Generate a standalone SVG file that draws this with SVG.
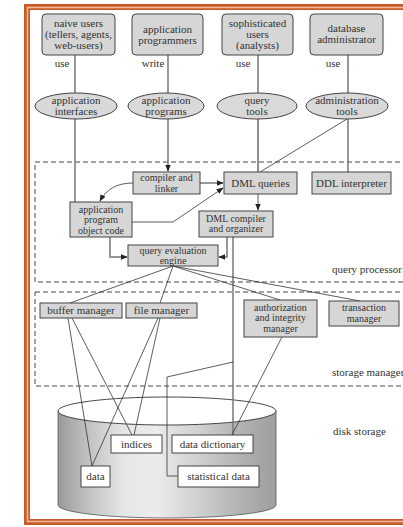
<svg xmlns="http://www.w3.org/2000/svg" width="403" height="527" viewBox="0 0 403 527">
<style>
text{font-family:"Liberation Serif","Times New Roman",serif;font-size:11px;fill:#333;text-anchor:middle}
.sm{font-size:10px}
.lbl{text-anchor:start}
.box{fill:#d6d6d6;stroke:#444;stroke-width:1}
.wbox{fill:#fff;stroke:#444;stroke-width:1}
.ell{fill:#d9d9d9;stroke:#444;stroke-width:1}
.ln{fill:none;stroke:#333;stroke-width:0.8}
.gl{fill:none;stroke:#777;stroke-width:1.5}
.dash{fill:none;stroke:#333;stroke-width:0.9;stroke-dasharray:5 3}
</style>
<defs>
<marker id="ah" viewBox="0 0 10 10" refX="9" refY="5" markerWidth="7" markerHeight="7" orient="auto-start-reverse" markerUnits="userSpaceOnUse">
<path d="M0,1 L10,5 L0,9 Z" fill="#222"/>
</marker>
<linearGradient id="cyl" x1="0" y1="0" x2="1" y2="0">
<stop offset="0" stop-color="#9a9a9a"/>
<stop offset="0.12" stop-color="#bdbdbd"/>
<stop offset="0.3" stop-color="#e6e6e6"/>
<stop offset="0.45" stop-color="#ececec"/>
<stop offset="0.65" stop-color="#cfcfcf"/>
<stop offset="0.85" stop-color="#b0b0b0"/>
<stop offset="1" stop-color="#9e9e9e"/>
</linearGradient>
</defs>
<rect width="403" height="527" fill="#fff"/>
<rect x="27" y="7" width="400" height="515" fill="none" stroke="#c85a28" stroke-width="6"/>
<rect x="27.5" y="7.5" width="400" height="514" fill="none" stroke="#f2b898" stroke-width="1.6"/>

<rect class="dash" x="35" y="162" width="380" height="120"/>
<rect class="dash" x="35" y="292" width="380" height="94"/>
<text class="lbl" x="332" y="273">query processor</text>
<text class="lbl" x="332" y="376">storage manager</text>
<text class="lbl" x="333" y="435">disk storage</text>

<g id="disk">
<path d="M58,411 L58,505 A109,13 0 0 0 276,505 L276,411 Z" fill="url(#cyl)" stroke="#555" stroke-width="0.8"/>
<ellipse cx="167" cy="411" rx="109" ry="14" fill="#fff" stroke="#333" stroke-width="0.9"/>
</g>

<g id="connectors">
<line class="gl" x1="75" y1="55" x2="75" y2="93"/>
<line class="gl" x1="168" y1="55" x2="168" y2="93"/>
<line class="gl" x1="258" y1="55" x2="258" y2="93"/>
<line class="gl" x1="348" y1="55" x2="348" y2="93"/>
<line class="gl" x1="75" y1="119" x2="75" y2="202"/>
<line class="gl" x1="168" y1="119" x2="168" y2="171" marker-end="url(#ah)"/>
<line class="ln" x1="258" y1="119" x2="258" y2="172" style="stroke-width:1.1"/>
<line class="gl" x1="348" y1="119" x2="348" y2="172"/>
<line class="ln" x1="347" y1="119" x2="260" y2="172"/>
<line class="gl" x1="200" y1="183" x2="223" y2="183" marker-end="url(#ah)"/>
<path class="ln" d="M133,183 C116,183 106,190 100,201" marker-end="url(#ah)"/>
<path class="ln" d="M132,222 L173,222 L223,188" marker-end="url(#ah)"/>
<line class="ln" x1="258" y1="194" x2="258" y2="210" marker-end="url(#ah)"/>
<path class="gl" d="M110,237 L110,257 L127,257" marker-end="url(#ah)"/>
<path class="gl" d="M227,237 L227,257 L219,257" marker-end="url(#ah)"/>
<line class="gl" x1="233" y1="237" x2="233" y2="435"/>
<line class="ln" x1="173" y1="266" x2="70" y2="303"/>
<line class="ln" x1="173" y1="266" x2="160" y2="303"/>
<line class="ln" x1="173" y1="266" x2="280" y2="300"/>
<line class="ln" x1="173" y1="266" x2="360" y2="301"/>
<line class="ln" x1="68" y1="318" x2="92" y2="466"/>
<line class="ln" x1="72" y1="318" x2="132" y2="435"/>
<line class="ln" x1="158" y1="318" x2="92" y2="466"/>
<line class="ln" x1="160" y1="318" x2="134" y2="435"/>
<line class="ln" x1="282" y1="337" x2="232" y2="435"/>
<path class="ln" d="M178,476 L167,476 L167,377 L233,362"/>
</g>

<text x="62" y="67">use</text>
<text x="153" y="67">write</text>
<text x="243" y="67">use</text>
<text x="333" y="67">use</text>

<g id="naive-users"><rect class="box" x="42" y="14" width="73" height="41" rx="4"/>
<text x="78.5" y="27">naive users</text><text x="78.5" y="38">(tellers, agents,</text><text x="78.5" y="49">web-users)</text></g>
<g id="app-programmers"><rect class="box" x="132" y="14" width="71" height="41" rx="4"/>
<text x="167.5" y="32.5">application</text><text x="167.5" y="43.5">programmers</text></g>
<g id="sophisticated-users"><rect class="box" x="222" y="14" width="71" height="41" rx="4"/>
<text x="257.5" y="27">sophisticated</text><text x="257.5" y="38">users</text><text x="257.5" y="49">(analysts)</text></g>
<g id="dba"><rect class="box" x="310" y="14" width="73" height="41" rx="4"/>
<text x="346.5" y="31.5">database</text><text x="346.5" y="42.5">administrator</text></g>

<g id="app-interfaces"><ellipse class="ell" cx="76" cy="106" rx="41" ry="13"/>
<text x="76" y="103.5">application</text><text x="76" y="114.5">interfaces</text></g>
<g id="app-programs"><ellipse class="ell" cx="166" cy="106" rx="38" ry="13"/>
<text x="166" y="103.5">application</text><text x="166" y="114.5">programs</text></g>
<g id="query-tools"><ellipse class="ell" cx="257" cy="106" rx="40" ry="13"/>
<text x="257" y="103.5">query</text><text x="257" y="114.5">tools</text></g>
<g id="admin-tools"><ellipse class="ell" cx="347" cy="106" rx="41" ry="13"/>
<text x="347" y="103.5">administration</text><text x="347" y="114.5">tools</text></g>

<g id="compiler-linker"><rect class="box" x="133" y="172" width="67" height="22"/>
<text class="sm" x="166.5" y="181">compiler and</text><text class="sm" x="166.5" y="191.5">linker</text></g>
<g id="dml-queries"><rect class="box" x="224" y="172" width="73" height="22"/>
<text x="260.5" y="186.5">DML queries</text></g>
<g id="ddl-interpreter"><rect class="box" x="312" y="172" width="79" height="22"/>
<text x="351.5" y="186.5">DDL interpreter</text></g>
<g id="object-code"><rect class="box" x="70" y="202" width="62" height="35"/>
<text class="sm" x="101" y="212.5">application</text><text class="sm" x="101" y="223">program</text><text class="sm" x="101" y="233.5">object code</text></g>
<g id="dml-compiler"><rect class="box" x="199" y="211" width="74" height="26"/>
<text class="sm" x="236" y="221.5">DML compiler</text><text class="sm" x="236" y="232">and organizer</text></g>
<g id="query-eval"><rect class="box" x="128" y="245" width="90" height="21"/>
<text class="sm" x="173" y="254">query evaluation</text><text class="sm" x="173" y="264">engine</text></g>

<g id="buffer-manager"><rect class="box" x="40" y="303" width="82" height="15"/>
<text x="81" y="314">buffer manager</text></g>
<g id="file-manager"><rect class="box" x="126" y="303" width="71" height="15"/>
<text x="161.5" y="314">file manager</text></g>
<g id="auth-manager"><rect class="box" x="244" y="300" width="73" height="37"/>
<text class="sm" x="280.5" y="310.5">authorization</text><text class="sm" x="280.5" y="321">and integrity</text><text class="sm" x="280.5" y="331.5">manager</text></g>
<g id="transaction-manager"><rect class="box" x="329" y="301" width="70" height="25"/>
<text class="sm" x="364" y="311">transaction</text><text class="sm" x="364" y="321.5">manager</text></g>

<g id="indices"><rect class="wbox" x="111" y="435" width="51" height="18"/><text x="136.5" y="447.5">indices</text></g>
<g id="data-dictionary"><rect class="wbox" x="172" y="435" width="81" height="18"/><text x="212.5" y="447.5">data dictionary</text></g>
<g id="data"><rect class="wbox" x="81" y="466" width="29" height="21"/><text x="95.5" y="480">data</text></g>
<g id="statistical-data"><rect class="wbox" x="178" y="466" width="81" height="21"/><text x="218.5" y="480">statistical data</text></g>
</svg>
